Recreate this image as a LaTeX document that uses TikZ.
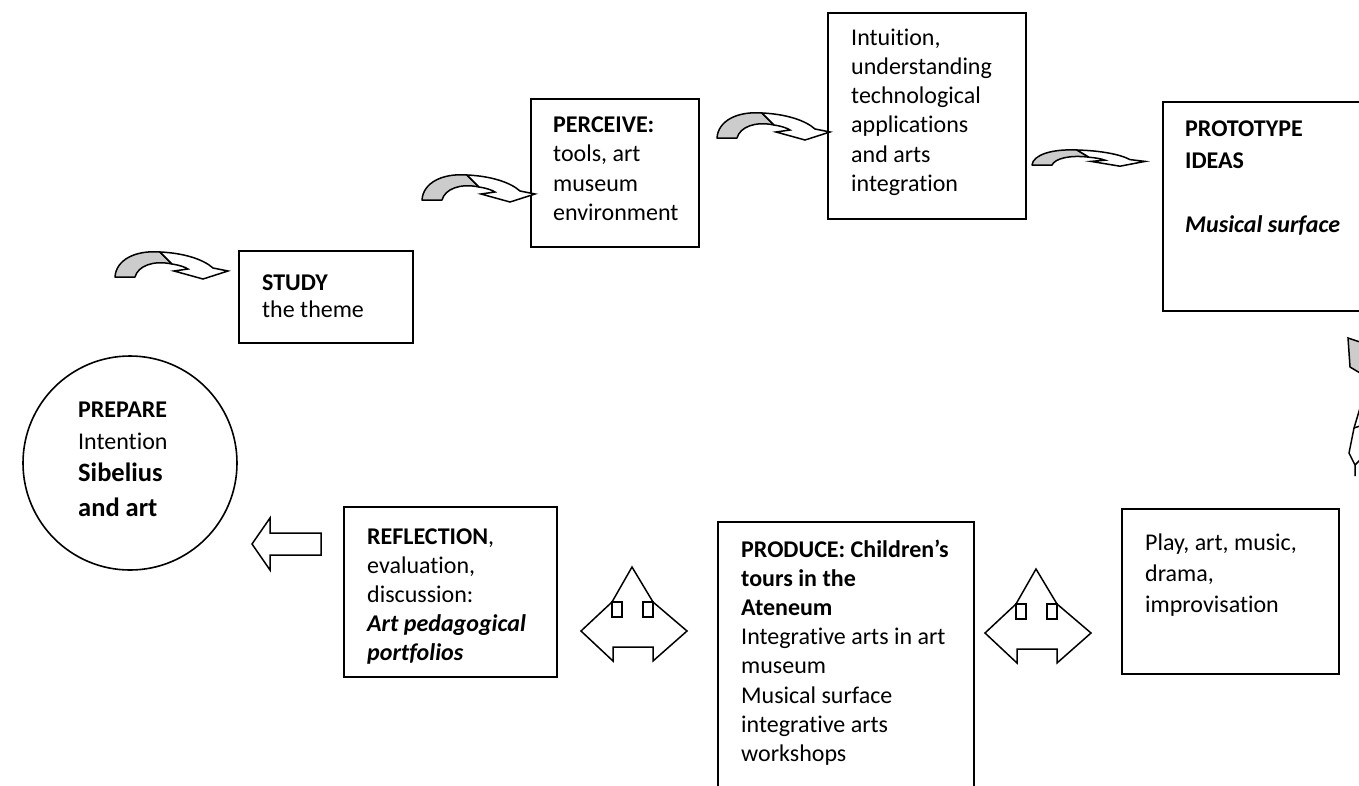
\documentclass[tikz,border=0pt]{standalone}
\usepackage{fontspec}
\setmainfont{Carlito}[Ligatures=NoCommon]
\usetikzlibrary{shapes.geometric}
\begin{document}
\begin{tikzpicture}[x=1pt,y=-1pt,
  box/.style={draw=black, line width=1.6pt, fill=white, inner sep=0pt, anchor=north west},
  txt/.style={inner sep=0pt, anchor=base west, align=left},
  shp/.style={draw=black, line width=1.5pt, line join=miter},
  curvarr/.pic={
    \filldraw[shp, fill=gray!40, line join=round] (0,0) .. controls (1,-17) and (20,-27) .. (45,-25) -- (57,-13) .. controls (38,-17) and (23,-11) .. (20,0) -- cycle;
    \filldraw[shp, fill=white] (45,-25) .. controls (68,-24) and (88,-18) .. (98,-9) -- (113,-6) -- (88,2) -- (59,-6) -- (73,-8) .. controls (70,-10) and (64,-12) .. (57,-13) -- cycle;
  },
  triarr/.pic={
    \draw[shp] (0,0) -- (31,-29) -- (51,-64) -- (72,-29) -- (106,0) -- (72,30) -- (72,16) -- (32,16) -- (32,30) -- cycle;
    \draw[shp] (31,-29) rectangle (41,-14);
    \draw[shp] (62,-29) rectangle (72,-14);
  }]
\useasboundingbox (0,0) rectangle (1359,785);

% boxes
\node[box, minimum width=174pt, minimum height=92pt] (study) at (238,250) {};
\node[box, minimum width=168pt, minimum height=148pt] (perceive) at (530,98) {};
\node[box, minimum width=198pt, minimum height=206pt] (intuition) at (827,12) {};
\node[box, minimum width=220pt, minimum height=209pt] (proto) at (1162,101) {};
\node[box, minimum width=217pt, minimum height=165pt] (play) at (1121,508) {};
\node[box, minimum width=256pt, minimum height=300pt] (produce) at (717,521) {};
\node[box, minimum width=213pt, minimum height=170pt] (reflect) at (343,506) {};
\node[draw=black, line width=1.6pt, circle, minimum size=214pt, inner sep=0pt] (prepare) at (130,463) {};

% texts
\node[txt] (studyt) at (262,290) {\parbox[t]{170pt}{\fontsize{24}{27}\selectfont\textbf{STUDY}\\the theme}};
\node[txt] (perceivet) at (553,132) {\parbox[t]{170pt}{\fontsize{24}{29.5}\selectfont\textbf{PERCEIVE:}\\tools, art\\museum\\environment}};
\node[txt] (intuitiont) at (851,45) {\parbox[t]{190pt}{\fontsize{24}{29.3}\selectfont Intuition,\\understanding\\technological\\applications\\and arts\\integration}};
\node[txt] (protot) at (1185,136) {\parbox[t]{190pt}{\fontsize{24}{32}\selectfont\textbf{PROTOTYPE}\\\textbf{IDEAS}\\[32pt]\textbf{\itshape Musical surface}}};
\node[txt] (playt) at (1145,550) {\parbox[t]{210pt}{\fontsize{24}{31}\selectfont Play, art, music,\\drama,\\improvisation}};
\node[txt] (producet) at (741,557) {\parbox[t]{260pt}{\fontsize{24}{29.2}\selectfont\textbf{PRODUCE: Children's}\\\textbf{tours in the}\\\textbf{Ateneum}\\Integrative arts in art\\museum\\Musical surface\\integrative arts\\workshops}};
\node[txt] (reflectt) at (367,544) {\parbox[t]{210pt}{\fontsize{24}{29}\selectfont\textbf{REFLECTION}, \\evaluation,\\discussion:\\\textbf{\itshape Art pedagogical}\\\textbf{\itshape portfolios}}};
\node[txt] (preparet) at (78,417) {\parbox[t]{140pt}{\fontsize{24}{32}\selectfont\textbf{PREPARE}\\Intention\\{\fontsize{26.5}{33}\selectfont\textbf{Sibelius}}\\[3pt]{\fontsize{26.5}{33}\selectfont\textbf{and art}}}};

% curved arrows
\pic at (115,277) {curvarr};
\pic at (422,200) {curvarr};
\pic at (717,138) {curvarr};
\pic[yscale=0.6] at (1032,165) {curvarr};

% three-way arrows
\pic at (581,631) {triarr};
\pic at (985,633) {triarr};

% left block arrow
\draw[shp] (252,544) -- (270,518) -- (270,533) -- (321,533) -- (321,555) -- (270,555) -- (270,570) -- cycle;

% partial shapes at right edge
\filldraw[shp, fill=gray!40] (1348,338) -- (1360,342) -- (1360,373) -- (1350,367) -- cycle;
\draw[shp] (1360,408) -- (1354,428) -- (1349,453) -- (1355,465) -- (1355,476);
\draw[shp] (1354,428) -- (1360,426);
\draw[shp] (1355,465) -- (1360,460);
\end{tikzpicture}
\end{document}
